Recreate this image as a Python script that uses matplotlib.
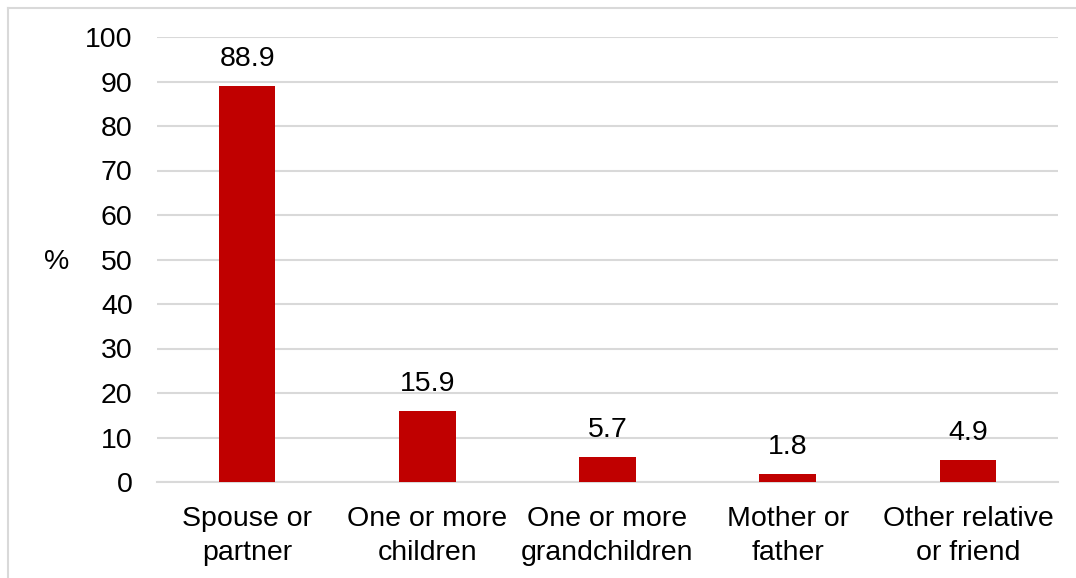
import matplotlib
matplotlib.use("Agg")
import matplotlib.pyplot as plt
from matplotlib.lines import Line2D

categories = ["Spouse or\npartner", "One or more\nchildren", "One or more\ngrandchildren",
              "Mother or\nfather", "Other relative\nor friend"]
values = [88.9, 15.9, 5.7, 1.8, 4.9]
yticks = [0, 10, 20, 30, 40, 50, 60, 70, 80, 90, 100]

plt.rcParams['font.family'] = ['Liberation Sans', 'DejaVu Sans']

W, H = 1076, 578
FS = 20.5
fig = plt.figure(figsize=(W / 100, H / 100), dpi=100)
ax = fig.add_axes([157 / W, 1 - 482 / H, (1058 - 157) / W, (482 - 37) / H])

x = list(range(len(categories)))
bars = ax.bar(x, values, width=0.313, color="#C00000", zorder=3)
for b, v in zip(bars, values):
    ax.annotate(f"{v:.1f}", (b.get_x() + b.get_width() / 2, v),
                xytext=(0, 27), textcoords="offset pixels",
                ha="center", va="center", fontsize=FS, color="#000000")

ax.set_xlim(-0.5, len(categories) - 0.5)
ax.set_ylim(0, 100)
ax.set_yticks(yticks)
ax.set_xticks(x)
ax.set_xticklabels(categories, fontsize=FS, linespacing=1.36)
ax.tick_params(axis="y", length=0, pad=17.5, labelsize=FS)
ax.tick_params(axis="x", length=0, pad=17.5)
ax.grid(axis="y", color="#D9D9D9", linewidth=1.5, zorder=0)
for s in ["top", "right", "left"]:
    ax.spines[s].set_visible(False)
ax.spines["bottom"].set_color("#D9D9D9")
ax.spines["bottom"].set_linewidth(1.5)

# "%" unit label beside the value axis
fig.text(57 / W, 1 - 262 / H, "%", fontsize=FS, ha="center", va="center")

# outer frame (left and top edges)
fig.add_artist(Line2D([7.5 / W, 7.5 / W], [0, 1 - 7.5 / H], transform=fig.transFigure,
                      color="#D9D9D9", linewidth=1.5))
fig.add_artist(Line2D([7.5 / W, 1], [1 - 7.5 / H, 1 - 7.5 / H], transform=fig.transFigure,
                      color="#D9D9D9", linewidth=1.5))

fig.savefig("out.png", dpi=100)
